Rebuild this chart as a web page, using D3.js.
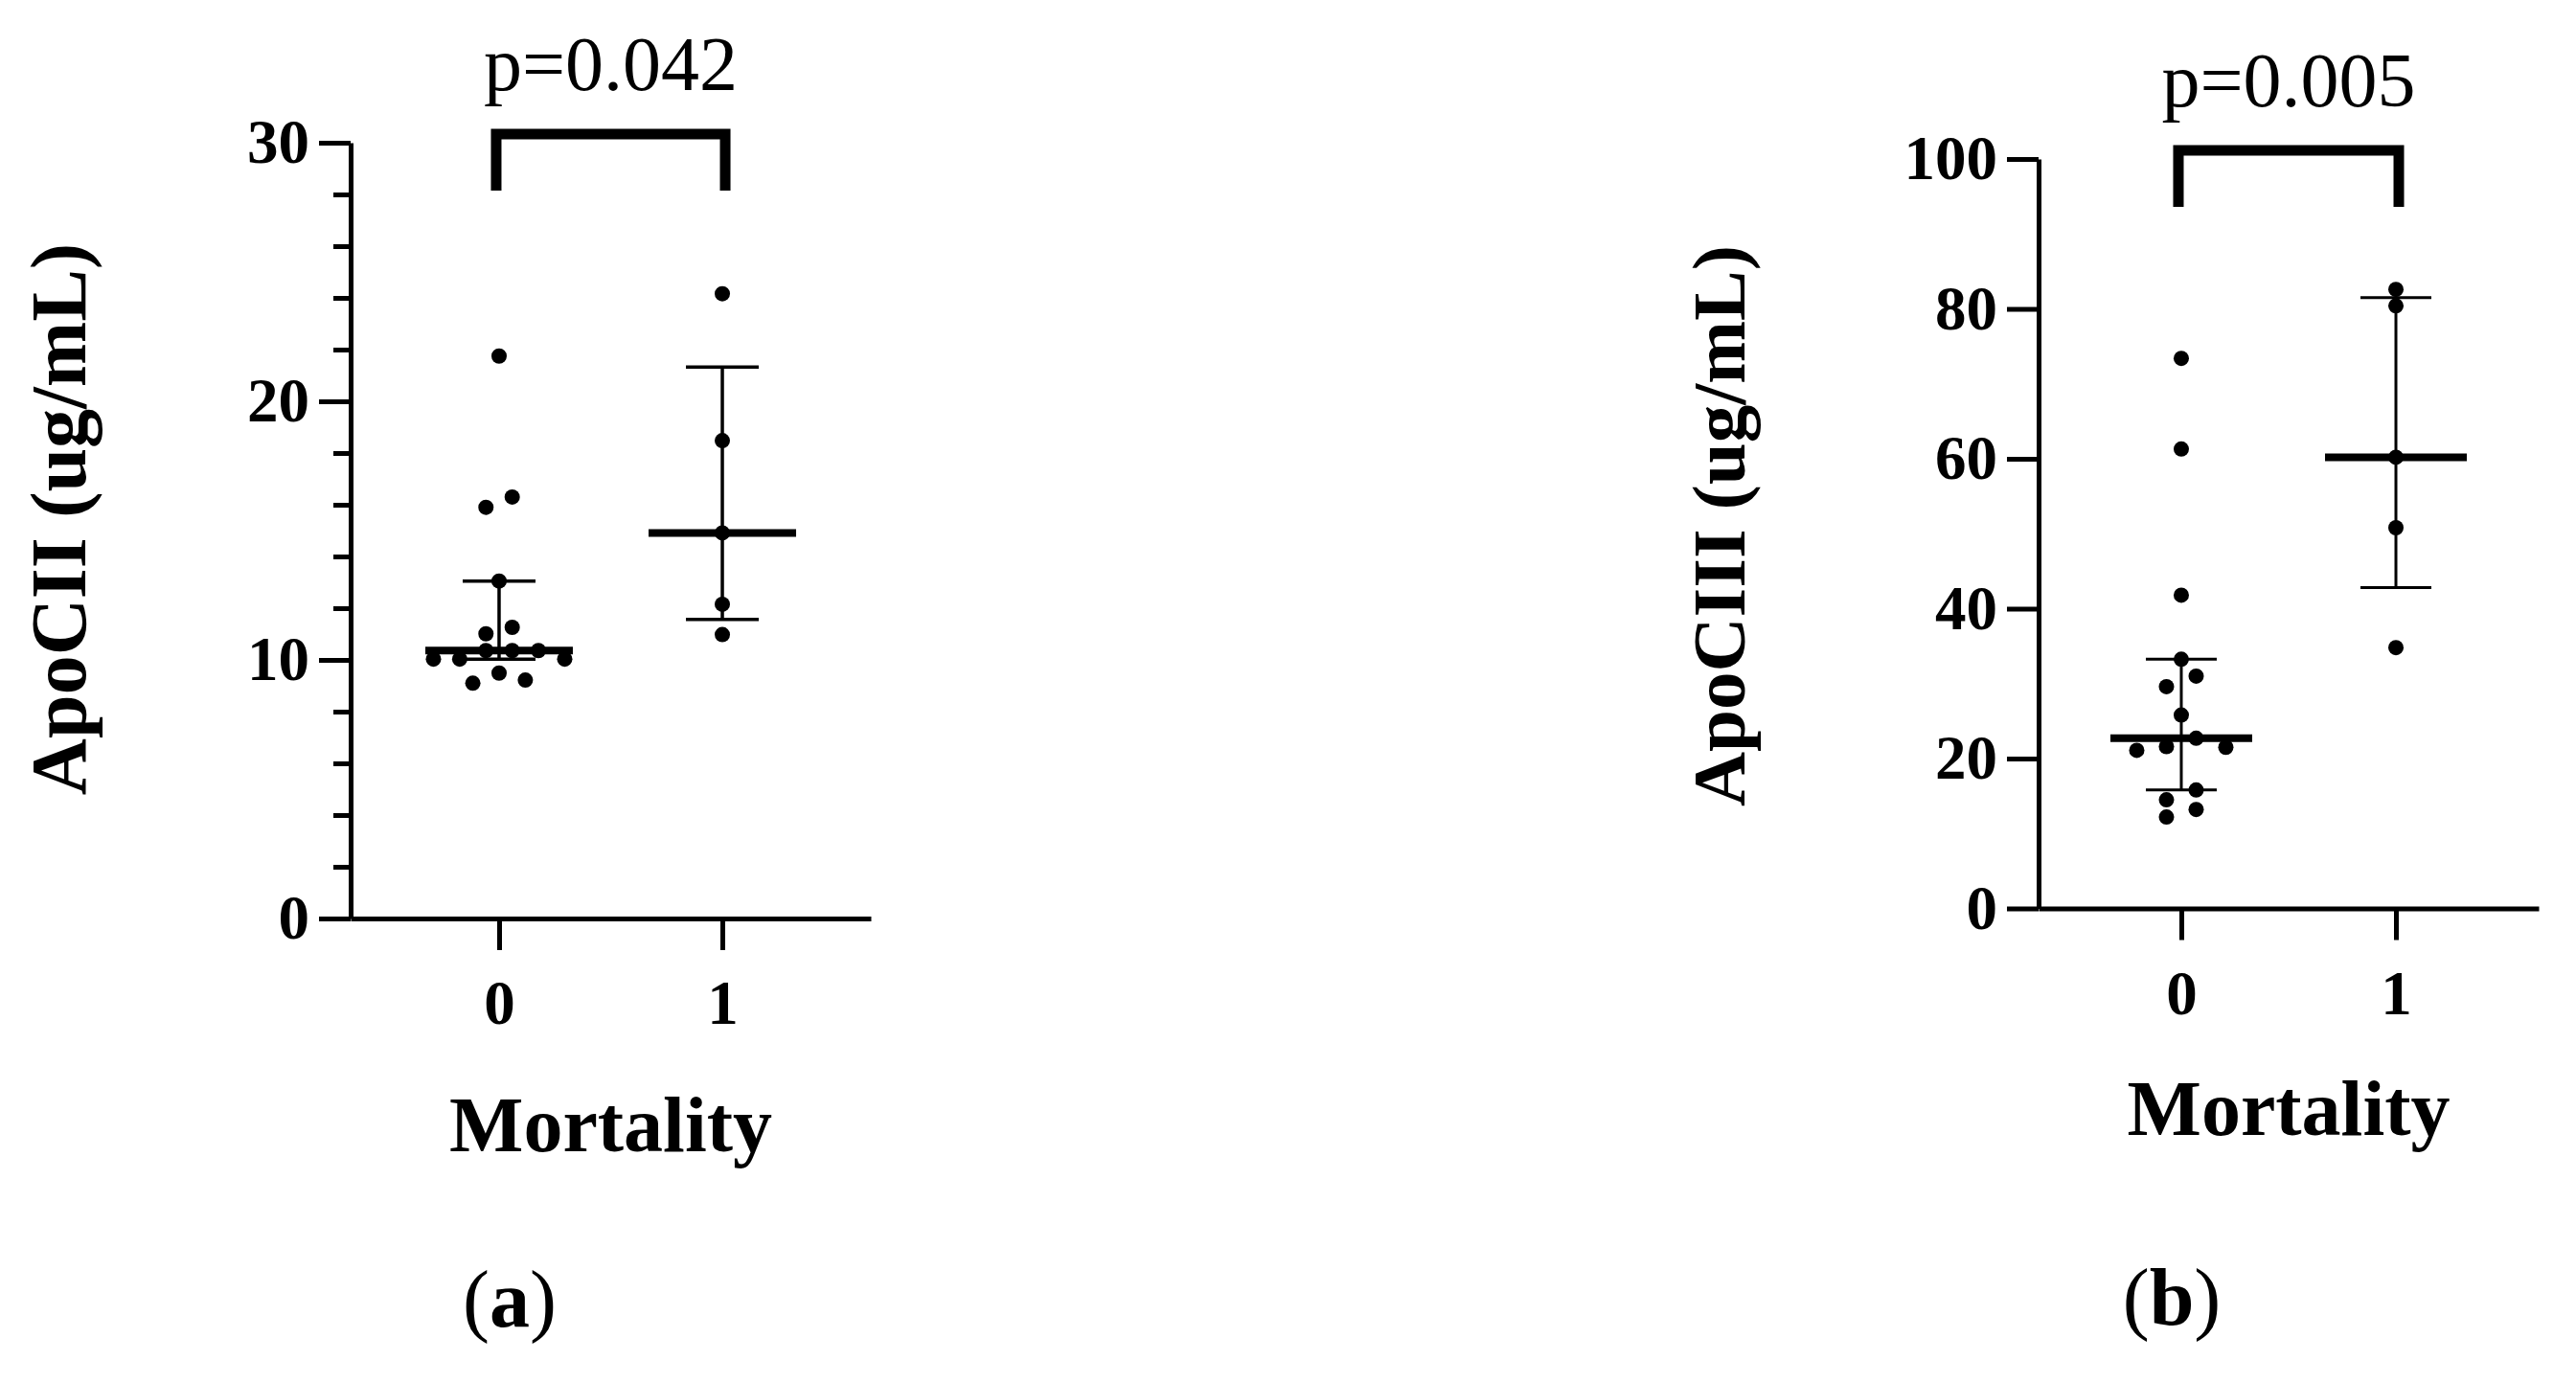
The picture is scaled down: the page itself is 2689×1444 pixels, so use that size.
<!DOCTYPE html>
<html><head><meta charset="utf-8">
<script src="https://cdn.jsdelivr.net/npm/d3@7"></script>
<style>
html,body{margin:0;padding:0;background:#fff;}
svg text{font-family:"Liberation Serif","Times New Roman",serif;fill:#000;}
</style></head><body>
<svg id="chart" width="2689" height="1444"></svg>
<script>
// ---------------- data ----------------
const categories = ["0", "1"];
const apoCII_mort0 = [21.75, 16.3, 15.9, 13.05, 11.26, 11.01, 10.36, 10.36, 10.36, 10.03, 10.03, 10.03, 9.49, 9.22, 9.1];
const apoCII_mort1 = [24.16, 18.48, 14.91, 12.15, 10.98];
const apoCIII_mort0 = [73.4, 61.3, 41.8, 33.25, 31.0, 29.6, 25.8, 22.7, 21.6, 21.5, 21.1, 15.8, 14.5, 13.2, 12.2];
const apoCIII_mort1 = [82.6, 80.4, 60.2, 50.8, 34.8];
const pValueLabels = ["p=0.042", "p=0.005"];
const yMajorTicksA = [0, 10, 20, 30];
const yMinorTicksA = [2, 4, 6, 8, 12, 14, 16, 18, 22, 24, 26, 28];
const yMajorTicksB = [0, 20, 40, 60, 80, 100];
const yTitles = ["ApoCII (ug/mL)", "ApoCIII (ug/mL)"];
const xTitle = "Mortality";
const panelLetters = ["a", "b"];

// ---------------- layout ----------------
const panels = [
  { groups: [apoCII_mort0, apoCII_mort1], yMax: 30, major: yMajorTicksA, minor: yMinorTicksA,
    left: 366, right: 909, top: 149, bottom: 959, step: 27.4, medHalf: 77, capHalf: 38, whisk: 3.5,
    titleX: 89, titleY: 542, titleSize: 82, xTitleY: 1202, letterX: 532, letterY: 1385,
    p: pValueLabels[0], yTitle: yTitles[0], letter: panelLetters[0] },
  { groups: [apoCIII_mort0, apoCIII_mort1], yMax: 100, major: yMajorTicksB, minor: [],
    left: 2128, right: 2650, top: 166, bottom: 948.5, step: 31, medHalf: 74, capHalf: 37, whisk: 3,
    titleX: 1821, titleY: 549, titleSize: 79, xTitleY: 1185, letterX: 2267, letterY: 1383,
    p: pValueLabels[1], yTitle: yTitles[1], letter: panelLetters[1] }
];

const svg = d3.select("#chart");
const R = 8;

// GraphPad-style percentile: position (n+1)p
function gpQuantile(arr, p) {
  const s = arr.slice().sort((a, b) => a - b), n = s.length;
  const pos = (n + 1) * p;
  if (pos <= 1) return s[0];
  if (pos >= n) return s[n - 1];
  const lo = Math.floor(pos), f = pos - lo;
  return s[lo - 1] + f * (s[lo] - s[lo - 1]);
}

// row-based scatter spreading (points closer than a dot diameter share a row)
function swarm(values, y, step) {
  const order = values.map((v, i) => ({ v, i })).sort((a, b) => b.v - a.v);
  const rows = [];
  order.forEach(o => {
    const last = rows[rows.length - 1];
    if (last && Math.abs(y(o.v) - y(last[0].v)) < 2 * R) last.push(o);
    else rows.push([o]);
  });
  const out = new Array(values.length);
  rows.forEach(row => {
    const n = row.length;
    const slots = d3.range(n).map(k => k - (n - 1) / 2)
      .sort((a, b) => Math.abs(a) - Math.abs(b) || b - a);
    row.forEach((o, k) => { out[o.i] = slots[k] * step; });
  });
  return out;
}

panels.forEach(P => {
  const g = svg.append("g");
  const y = d3.scaleLinear().domain([0, P.yMax]).range([P.bottom, P.top]);
  const x = d3.scalePoint().domain(categories).range([P.left, P.right]).padding(0.665);

  if (P.minor.length) {
    const mg = g.append("g").attr("transform", `translate(${P.left},0)`)
      .call(d3.axisLeft(y).tickValues(P.minor).tickSize(18).tickFormat(""));
    mg.select(".domain").remove();
    mg.selectAll(".tick line").attr("stroke", "#000").attr("stroke-width", 5);
  }
  const ya = g.append("g").attr("transform", `translate(${P.left},0)`)
    .call(d3.axisLeft(y).tickValues(P.major).tickSize(33).tickPadding(10).tickSizeOuter(0));
  ya.select(".domain").attr("stroke", "#000").attr("stroke-width", 5);
  ya.selectAll(".tick line").attr("stroke", "#000").attr("stroke-width", 5);
  ya.selectAll(".tick text").attr("font-size", 65).attr("font-weight", "bold")
    .style("font-family", '"Liberation Serif", serif');

  const xa = g.append("g").attr("transform", `translate(0,${P.bottom})`)
    .call(d3.axisBottom(x).tickSize(33).tickPadding(31).tickSizeOuter(0));
  xa.select(".domain").attr("stroke", "#000").attr("stroke-width", 5);
  xa.selectAll(".tick line").attr("stroke", "#000").attr("stroke-width", 5);
  xa.selectAll(".tick text").attr("font-size", 65).attr("font-weight", "bold")
    .style("font-family", '"Liberation Serif", serif');

  g.append("text")
    .attr("transform", `translate(${P.titleX},${P.titleY}) rotate(-90)`)
    .attr("text-anchor", "middle").attr("font-size", P.titleSize).attr("font-weight", "bold")
    .text(P.yTitle);
  g.append("text")
    .attr("x", (P.left + P.right) / 2).attr("y", P.xTitleY)
    .attr("text-anchor", "middle").attr("font-size", 82).attr("font-weight", "bold")
    .text(xTitle);

  P.groups.forEach((vals, gi) => {
    const cx = x(categories[gi]);
    const offs = swarm(vals, y, P.step);
    g.append("g").selectAll("circle").data(vals).join("circle")
      .attr("cx", (d, i) => cx + offs[i]).attr("cy", d => y(d)).attr("r", R).attr("fill", "#000");
    const med = gpQuantile(vals, 0.5), q1 = gpQuantile(vals, 0.25), q3 = gpQuantile(vals, 0.75);
    g.append("line").attr("x1", cx).attr("x2", cx).attr("y1", y(q1)).attr("y2", y(q3))
      .attr("stroke", "#000").attr("stroke-width", P.whisk);
    [q1, q3].forEach(q => g.append("line")
      .attr("x1", cx - P.capHalf).attr("x2", cx + P.capHalf).attr("y1", y(q)).attr("y2", y(q))
      .attr("stroke", "#000").attr("stroke-width", P.whisk));
    g.append("line").attr("x1", cx - P.medHalf).attr("x2", cx + P.medHalf)
      .attr("y1", y(med)).attr("y2", y(med)).attr("stroke", "#000").attr("stroke-width", 8);
  });

  const bx0 = x(categories[0]) - 3, bx1 = x(categories[1]) + 3;
  const bTop = P.top - 9, bBot = P.top + 50;
  g.append("path")
    .attr("d", `M${bx0},${bBot}V${bTop}H${bx1}V${bBot}`)
    .attr("fill", "none").attr("stroke", "#000").attr("stroke-width", 11)
    .attr("stroke-linejoin", "miter");
  g.append("text").attr("x", (bx0 + bx1) / 2).attr("y", bTop - 46)
    .attr("text-anchor", "middle").attr("font-size", 80).text(P.p);

  const lt = g.append("text").attr("x", P.letterX).attr("y", P.letterY)
    .attr("text-anchor", "middle").attr("font-size", 84);
  lt.append("tspan").text("(");
  lt.append("tspan").attr("font-weight", "bold").text(P.letter);
  lt.append("tspan").text(")");
});
</script>
</body></html>
